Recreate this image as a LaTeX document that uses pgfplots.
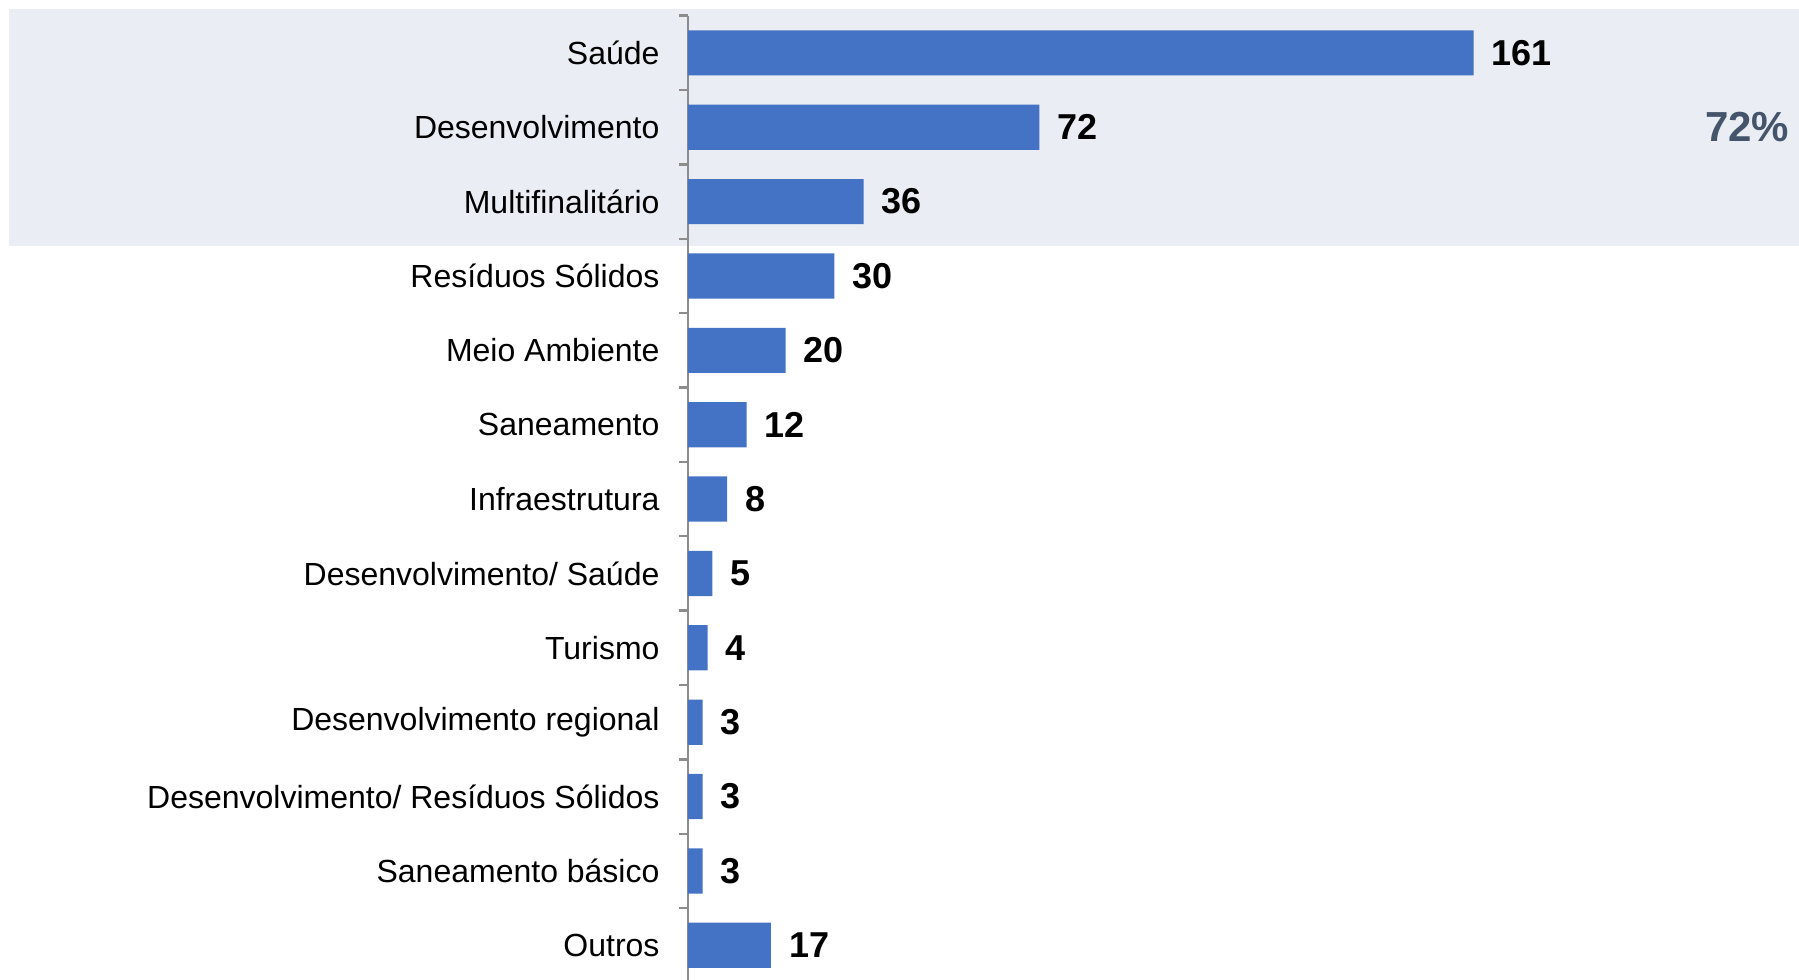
\documentclass[border=0pt]{standalone}
\usepackage{pgfplots}
\pgfplotsset{compat=1.18}
\usepackage{fontspec}
\setmainfont{Liberation Sans}
\definecolor{barblue}{HTML}{4472C4}
\definecolor{band}{HTML}{EAEDF3}
\definecolor{pct}{HTML}{44546A}
\definecolor{axgray}{HTML}{8C8C8C}

\begin{document}
\begin{tikzpicture}
\begin{axis}[
    set layers,
    scale only axis,
    width=277.75pt, height=241.7pt,
    xbar, bar width=11.3pt,
    xmin=0, xmax=227.66,
    ymin=-0.5, ymax=12.5,
    y dir=reverse,
    axis x line=none,
    axis y line*=left,
    axis line style={axgray, line width=0.6pt},
    ytick={0,...,12},
    yticklabels={Saúde, Desenvolvimento, Multifinalitário, Resíduos Sólidos,
        Meio Ambiente, Saneamento, Infraestrutura, Desenvolvimento/ Saúde,
        Turismo, Desenvolvimento regional, Desenvolvimento/ Resíduos Sólidos,
        Saneamento básico, Outros},
    major tick length=0pt,
    minor ytick={-0.5,0.5,...,12.5},
    minor tick length=2.2pt,
    tick align=outside,
    tick style={axgray, line width=0.6pt},
    yticklabel style={font=\fontsize{8}{9.6}\selectfont, xshift=-3.6pt},
    nodes near coords,
    every node near coord/.append style={font=\bfseries\fontsize{9}{10}\selectfont, black, xshift=1pt},
    /pgf/number format/assume math mode=true,
    clip=false,
    ]
    \begin{pgfonlayer}{axis background}
        \fill[band] (axis cs:-139.1,-0.59) rectangle (axis cs:227.66,2.597);
    \end{pgfonlayer}

    \addplot[fill=barblue, draw=none] coordinates {
        (161,0) (72,1) (36,2) (30,3) (20,4) (12,5) (8,6)
        (5,7) (4,8) (3,9) (3,10) (3,11) (17,12)};

    \node[anchor=east, text=pct, font=\bfseries\fontsize{10.5}{12}\selectfont, inner sep=0pt]
        at (axis cs:225.8,1) {72\%};

    \coordinate (tl) at (axis description cs:0,1);
    \coordinate (br) at (axis description cs:1,0);
\end{axis}
\pgfresetboundingbox
\path[use as bounding box] ([xshift=-172pt,yshift=3.925pt]tl) rectangle ([yshift=0.85pt]br);
\end{tikzpicture}
\end{document}
